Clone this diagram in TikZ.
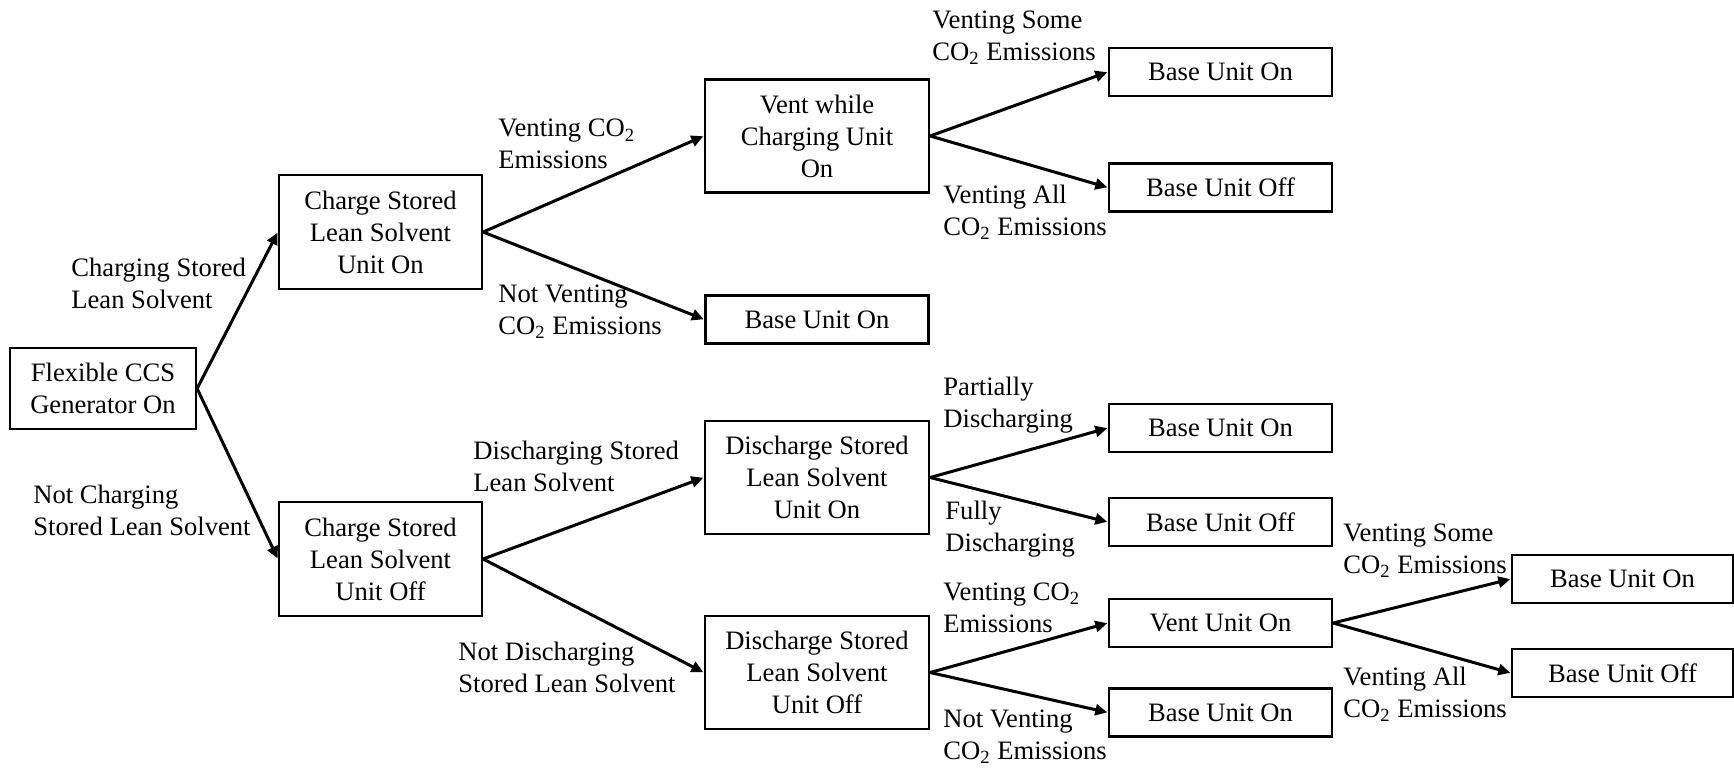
\documentclass[tikz,border=0pt]{standalone}
\usepackage{fontspec}
\setmainfont{Liberation Serif}
\usetikzlibrary{arrows.meta}
\newcommand{\cotwo}{CO\textsubscript{2}}
\begin{document}
\begin{tikzpicture}[x=0.5pt,y=-0.5pt,
  txt/.style={font=\fontsize{13.3pt}{16pt}\selectfont},
  box/.style={txt, draw, line width=1.1pt, align=center, inner sep=0pt},
  tall/.style={box, minimum width=112pt, minimum height=56.5pt},
  small/.style={box, minimum width=111.5pt, minimum height=24pt},
  lbl/.style={txt, anchor=west, align=left, inner sep=0pt},
  arr/.style={-{Triangle[length=6pt,width=5.5pt]}, line width=1.5pt, shorten >=0.3pt}]
\path[use as bounding box] (0,0) rectangle (1734,767);

% boxes
\node[box, minimum width=93pt, minimum height=40.5pt] (flex) at (103,388.5) {Flexible CCS\\Generator On};
\node[box, minimum width=101.5pt, minimum height=57pt] (chon) at (380.5,232) {Charge Stored\\Lean Solvent\\Unit On};
\node[box, minimum width=101.5pt, minimum height=57pt] (choff) at (380.5,559) {Charge Stored\\Lean Solvent\\Unit Off};
\node[tall] (vwc) at (817,136) {Vent while\\Charging Unit\\On};
\node[small] (bon1) at (817,319.5) {Base Unit On};
\node[tall] (dson) at (817,477.5) {Discharge Stored\\Lean Solvent\\Unit On};
\node[tall] (dsoff) at (817,672.5) {Discharge Stored\\Lean Solvent\\Unit Off};
\node[small] (bon2) at (1220.5,72) {Base Unit On};
\node[small] (boff2) at (1220.5,187.5) {Base Unit Off};
\node[small] (bon3) at (1220.5,428) {Base Unit On};
\node[small] (boff3) at (1220.5,522) {Base Unit Off};
\node[small] (vuo) at (1220.5,623) {Vent Unit On};
\node[small] (bon4) at (1220.5,712.5) {Base Unit On};
\node[small, minimum width=110.5pt] (bon5) at (1622.5,579) {Base Unit On};
\node[small, minimum width=110.5pt] (boff5) at (1622.5,673) {Base Unit Off};

% connectors
\draw[arr] (flex.east) -- (chon.west);
\draw[arr] (flex.east) -- (choff.west);
\draw[arr] (chon.east) -- (vwc.west);
\draw[arr] (chon.east) -- (bon1.west);
\draw[arr] (vwc.east) -- (bon2.west);
\draw[arr] (vwc.east) -- (boff2.west);
\draw[arr] (choff.east) -- (dson.west);
\draw[arr] (choff.east) -- (dsoff.west);
\draw[arr] (dson.east) -- (bon3.west);
\draw[arr] (dson.east) -- (boff3.west);
\draw[arr] (dsoff.east) -- (vuo.west);
\draw[arr] (dsoff.east) -- (bon4.west);
\draw[arr] (vuo.east) -- (bon5.west);
\draw[arr] (vuo.east) -- (boff5.west);

% labels
\node[lbl] (l1) at (71,283) {Charging Stored\\Lean Solvent};
\node[lbl] (l2) at (33,510) {Not Charging\\Stored Lean Solvent};
\node[lbl] (l3) at (498,144) {Venting \cotwo\\Emissions};
\node[lbl] (l4) at (498,311.5) {Not Venting\\\cotwo{} Emissions};
\node[lbl] (l5) at (932,37.5) {Venting Some\\\cotwo{} Emissions};
\node[lbl] (l6) at (943,212.5) {Venting All\\\cotwo{} Emissions};
\node[lbl] (l7) at (473,466) {Discharging Stored\\Lean Solvent};
\node[lbl] (l8) at (458,667.5) {Not Discharging\\Stored Lean Solvent};
\node[lbl] (l9) at (943,405.5) {Partially\\Discharging};
\node[lbl] (l10) at (945,529) {Fully\\Discharging};
\node[lbl] (l11) at (943,607.5) {Venting \cotwo\\Emissions};
\node[lbl] (l12) at (943,736.5) {Not Venting\\\cotwo{} Emissions};
\node[lbl] (l13) at (1343,551) {Venting Some\\\cotwo{} Emissions};
\node[lbl] (l14) at (1343,694) {Venting All\\\cotwo{} Emissions};
\end{tikzpicture}
\end{document}
